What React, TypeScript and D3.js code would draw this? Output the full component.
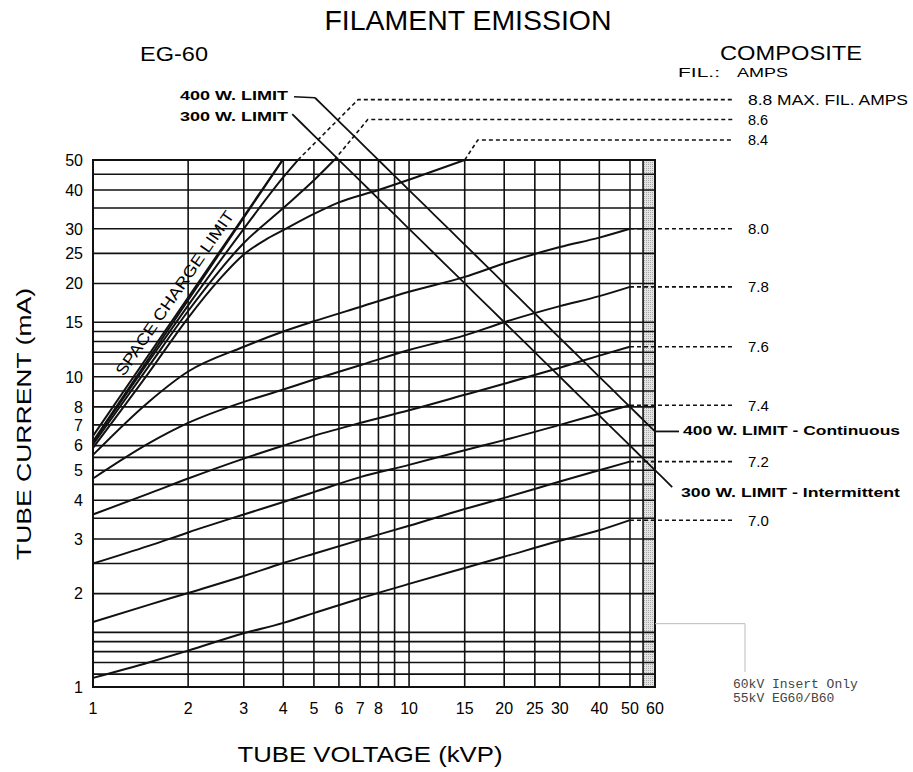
import React, { useEffect, useRef } from "react";
import * as d3 from "d3";

// axis ticks and grid
const voltTicks = [1, 2, 3, 4, 5, 6, 7, 8, 10, 15, 20, 25, 30, 40, 50, 60];
const voltGrid = [1, 2, 3, 4, 5, 6, 7, 8, 9, 10, 15, 20, 25, 30, 40, 50, 55, 60];
const currentTicks = [1, 2, 3, 4, 5, 6, 7, 8, 10, 15, 20, 25, 30, 40, 50];
const currentGrid = [
  1, 1.1, 1.2, 1.3, 1.4, 1.5, 2, 2.5, 3, 3.5, 4, 4.5, 5, 5.5, 6, 7, 8, 9, 10,
  11, 12, 13, 14, 15, 20, 25, 30, 35, 40, 45, 50,
];

// filament curves (kV -> mA)
const lowVolts = [1, 1.5, 2, 3, 4, 5, 7, 10, 15, 20, 30, 40, 50];
const fil70 = [1.07, 1.2, 1.31, 1.49, 1.61, 1.73, 1.93, 2.15, 2.42, 2.63, 2.96, 3.2, 3.45];
const fil72 = [1.62, 1.84, 2.01, 2.28, 2.51, 2.69, 2.98, 3.31, 3.75, 4.07, 4.6, 5.0, 5.33];
const fil74 = [2.5, 2.85, 3.15, 3.6, 3.95, 4.25, 4.75, 5.2, 5.8, 6.25, 7.0, 7.6, 8.1];
const fil76 = [3.6, 4.2, 4.7, 5.45, 6.0, 6.45, 7.1, 7.8, 8.75, 9.5, 10.7, 11.7, 12.5];
const fil78 = [4.7, 6.1, 7.1, 8.3, 9.1, 9.8, 10.9, 12.2, 13.6, 15.0, 16.9, 18.2, 19.5];
const fil80 = [5.6, 8.3, 10.4, 12.5, 14, 15.1, 16.8, 18.8, 21.0, 23.2, 26.2, 28.1, 30];

const fil84Volts = [1, 1.5, 2, 2.5, 3, 3.5, 4, 5, 6, 8, 10, 15];
const fil84 = [5.9, 10.3, 15.5, 20.5, 24.8, 27.6, 29.7, 33.5, 36.5, 40, 43.2, 50];
const fil86Volts = [1, 1.5, 2, 3, 4, 5, 5.8];
const fil86 = [6.05, 10.8, 16.3, 27, 35, 43, 50];
const fil88Volts = [1, 1.5, 2, 3, 4, 4.45];
const fil88 = [6.15, 11.2, 17.0, 30, 44, 50];

const lowLabels = ["7.0", "7.2", "7.4", "7.6", "7.8", "8.0"];
const highLabels = ["8.4", "8.6", "8.8 MAX. FIL. AMPS"];
// where the dashed leaders of the high curves turn horizontal
const bendVolts = [16.5, 7.4, 6.9];
const bendAmps = [58, 67.5, 78.3];

// space charge limit (double line)
const sclVolts = [1, 3.98];
const sclOuter = [6.45, 50];
const sclInner = [6.2, 50];

// power limits: mA = watts / kV
const limit400Volts = [5.04, 60];
const limit300Volts = [4.27, 68];

const App = () => {
  const svgRef = useRef(null);

  useEffect(() => {
    const svg = d3.select(svgRef.current);
    svg.selectAll("*").remove();

    const plot = { left: 93, right: 655, top: 160, bottom: 687 };
    const labelX = 748;
    const leaderEnd = 733;
    const font = "'Liberation Sans', Arial, Helvetica, sans-serif";

    const x = d3.scaleLog().domain([1, 60]).range([plot.left, plot.right]);
    const y = d3.scaleLog().domain([1, 50]).range([plot.bottom, plot.top]);

    const line = d3
      .line()
      .x((d) => x(d[0]))
      .y((d) => y(d[1]))
      .curve(d3.curveMonotoneX);
    const straight = d3
      .line()
      .x((d) => x(d[0]))
      .y((d) => y(d[1]));

    svg.append("rect").attr("width", 913).attr("height", 772).attr("fill", "#fff");

    // shaded strip 55-60 kV
    const defs = svg.append("defs");
    const pat = defs
      .append("pattern")
      .attr("id", "dots")
      .attr("width", 2)
      .attr("height", 2)
      .attr("patternUnits", "userSpaceOnUse");
    pat.append("rect").attr("width", 2).attr("height", 2).attr("fill", "#e4e4e4");
    pat.append("rect").attr("width", 1).attr("height", 1).attr("fill", "#a8a8a8");
    svg
      .append("rect")
      .attr("x", x(55))
      .attr("y", plot.top)
      .attr("width", x(60) - x(55))
      .attr("height", plot.bottom - plot.top)
      .attr("fill", "url(#dots)");

    // grid
    const grid = svg.append("g").attr("stroke", "#111").attr("stroke-width", 1.6);
    grid
      .selectAll(".vg")
      .data(voltGrid)
      .enter()
      .append("line")
      .attr("x1", (d) => x(d))
      .attr("x2", (d) => x(d))
      .attr("y1", plot.top)
      .attr("y2", plot.bottom);
    grid
      .selectAll(".hg")
      .data(currentGrid)
      .enter()
      .append("line")
      .attr("x1", plot.left)
      .attr("x2", plot.right)
      .attr("y1", (d) => y(d))
      .attr("y2", (d) => y(d));

    // tick labels
    svg
      .append("g")
      .selectAll("text")
      .data(voltTicks)
      .enter()
      .append("text")
      .attr("x", (d) => x(d))
      .attr("y", plot.bottom + 27)
      .attr("text-anchor", "middle")
      .attr("font-family", font)
      .attr("font-size", 16)
      .text((d) => d);
    svg
      .append("g")
      .selectAll("text")
      .data(currentTicks)
      .enter()
      .append("text")
      .attr("x", plot.left - 10)
      .attr("y", (d) => y(d))
      .attr("dy", "0.36em")
      .attr("text-anchor", "end")
      .attr("font-family", font)
      .attr("font-size", 16)
      .text((d) => d);

    // filament curves
    const lowSeries = [fil70, fil72, fil74, fil76, fil78, fil80];
    const highSeries = [
      fil84Volts.map((v, i) => [v, fil84[i]]),
      fil86Volts.map((v, i) => [v, fil86[i]]),
      fil88Volts.map((v, i) => [v, fil88[i]]),
    ];
    const curves = svg
      .append("g")
      .attr("fill", "none")
      .attr("stroke", "#111")
      .attr("stroke-width", 2);
    lowSeries.forEach((s) => {
      curves.append("path").attr("d", line(lowVolts.map((v, i) => [v, s[i]])));
    });
    highSeries.forEach((s) => {
      curves.append("path").attr("d", line(s));
    });

    // space charge limit
    curves.append("path").attr("d", straight(sclVolts.map((v, i) => [v, sclOuter[i]])));
    curves.append("path").attr("d", straight(sclVolts.map((v, i) => [v, sclInner[i]])));

    const a = [sclVolts[0], sclOuter[0]];
    const b = [sclVolts[1], sclOuter[1]];
    const ang = (Math.atan2(y(b[1]) - y(a[1]), x(b[0]) - x(a[0])) * 180) / Math.PI;
    const midV = 2.0;
    const midI = sclOuter[0] * Math.pow(midV, Math.log(sclOuter[1] / sclOuter[0]) / Math.log(sclVolts[1]));
    svg
      .append("text")
      .attr(
        "transform",
        `translate(${x(midV)},${y(midI)}) rotate(${ang}) translate(-4,-8)`
      )
      .attr("text-anchor", "middle")
      .attr("font-family", font)
      .attr("font-size", 16)
      .attr("textLength", 196)
      .attr("lengthAdjust", "spacingAndGlyphs")
      .text("SPACE CHARGE LIMIT");

    // power limit lines
    const limit = (w, vs) => {
      const pts = d3.range(0, 41).map((k) => {
        const v = vs[0] * Math.pow(vs[1] / vs[0], k / 40);
        return [v, w / v];
      });
      return straight(pts);
    };
    curves.append("path").attr("d", limit(400, limit400Volts)).attr("stroke-width", 1.8);
    curves.append("path").attr("d", limit(300, limit300Volts)).attr("stroke-width", 1.8);

    const l400a = [limit400Volts[0], 400 / limit400Volts[0]];
    const l400b = [limit400Volts[1], 400 / limit400Volts[1]];
    curves
      .append("line")
      .attr("x1", x(l400a[0]))
      .attr("y1", y(l400a[1]))
      .attr("x2", x(l400a[0]) - 21)
      .attr("y2", y(l400a[1]) - 1)
      .attr("stroke-width", 1.5);
    curves
      .append("line")
      .attr("x1", x(l400b[0]))
      .attr("y1", y(l400b[1]))
      .attr("x2", x(l400b[0]) + 24)
      .attr("y2", y(l400b[1]))
      .attr("stroke-width", 1.8);

    const bold = (t, px, py, size, len) =>
      svg
        .append("text")
        .attr("x", px)
        .attr("y", py)
        .attr("dy", "0.36em")
        .attr("font-family", font)
        .attr("font-weight", "bold")
        .attr("font-size", size)
        .attr("textLength", len)
        .attr("lengthAdjust", "spacingAndGlyphs")
        .text(t);

    bold("400 W. LIMIT", 180, y(l400a[1]) - 2, 13, 108);
    bold("300 W. LIMIT", 180, y(300 / limit300Volts[0]) + 2, 13, 108);
    bold("400 W. LIMIT - Continuous", 683, y(l400b[1]) - 1, 13.5, 217);
    bold("300 W. LIMIT - Intermittent", 681, y(300 / limit300Volts[1]) + 5, 13.5, 219);

    // dashed leaders + labels
    const leaders = svg
      .append("g")
      .attr("fill", "none")
      .attr("stroke", "#111")
      .attr("stroke-width", 1.6)
      .attr("stroke-dasharray", "4,3");
    const label = (t, py, size) =>
      svg
        .append("text")
        .attr("x", labelX)
        .attr("y", py)
        .attr("dy", "0.36em")
        .attr("font-family", font)
        .attr("font-size", size)
        .text(t);

    lowSeries.forEach((s, i) => {
      const yy = y(s[s.length - 1]);
      leaders
        .append("line")
        .attr("x1", x(lowVolts[lowVolts.length - 1]))
        .attr("x2", leaderEnd)
        .attr("y1", yy)
        .attr("y2", yy);
      label(lowLabels[i], yy, 15);
    });
    highSeries.forEach((s, i) => {
      const end = s[s.length - 1];
      const yy = y(bendAmps[i]);
      leaders
        .append("path")
        .attr(
          "d",
          `M${x(end[0])},${y(end[1])}L${x(bendVolts[i])},${yy}L${leaderEnd},${yy}`
        );
      const t = label(highLabels[i], yy, 14.5);
      if (i === 2) t.attr("textLength", 160).attr("lengthAdjust", "spacingAndGlyphs");
    });

    // frame
    svg
      .append("rect")
      .attr("x", plot.left)
      .attr("y", plot.top)
      .attr("width", plot.right - plot.left)
      .attr("height", plot.bottom - plot.top)
      .attr("fill", "none")
      .attr("stroke", "#111")
      .attr("stroke-width", 2);

    // note at lower right
    svg
      .append("path")
      .attr("d", `M${plot.right},${y(1.6)}H745V672`)
      .attr("fill", "none")
      .attr("stroke", "#bbb")
      .attr("stroke-width", 1);
    ["60kV Insert Only", "55kV EG60/B60"].forEach((t, i) => {
      svg
        .append("text")
        .attr("x", 733)
        .attr("y", 688 + i * 14)
        .attr("font-family", "'Liberation Mono', 'Courier New', monospace")
        .attr("font-size", 13)
        .attr("fill", "#444")
        .text(t);
    });

    // titles
    const title = (t, px, py, size, len, anchor) =>
      svg
        .append("text")
        .attr("x", px)
        .attr("y", py)
        .attr("text-anchor", anchor)
        .attr("font-family", font)
        .attr("font-size", size)
        .attr("textLength", len)
        .attr("lengthAdjust", "spacingAndGlyphs")
        .text(t);
    title("FILAMENT EMISSION", 468, 30, 28, 287, "middle");
    title("EG-60", 140, 61, 21, 68, "start");
    title("COMPOSITE", 720, 60, 20, 142, "start");
    title("FIL.:", 678, 77, 13, 42, "start");
    title("AMPS", 737, 77, 13, 51, "start");
    title("TUBE VOLTAGE (kVP)", 370, 762, 22, 265, "middle");
    svg
      .append("text")
      .attr("transform", "translate(31,424) rotate(-90)")
      .attr("text-anchor", "middle")
      .attr("font-family", font)
      .attr("font-size", 21)
      .attr("textLength", 272)
      .attr("lengthAdjust", "spacingAndGlyphs")
      .text("TUBE CURRENT (mA)");
  }, []);

  return (
    <svg
      ref={svgRef}
      width={913}
      height={772}
      style={{ position: "absolute", left: 0, top: 0 }}
    />
  );
};

export default App;
